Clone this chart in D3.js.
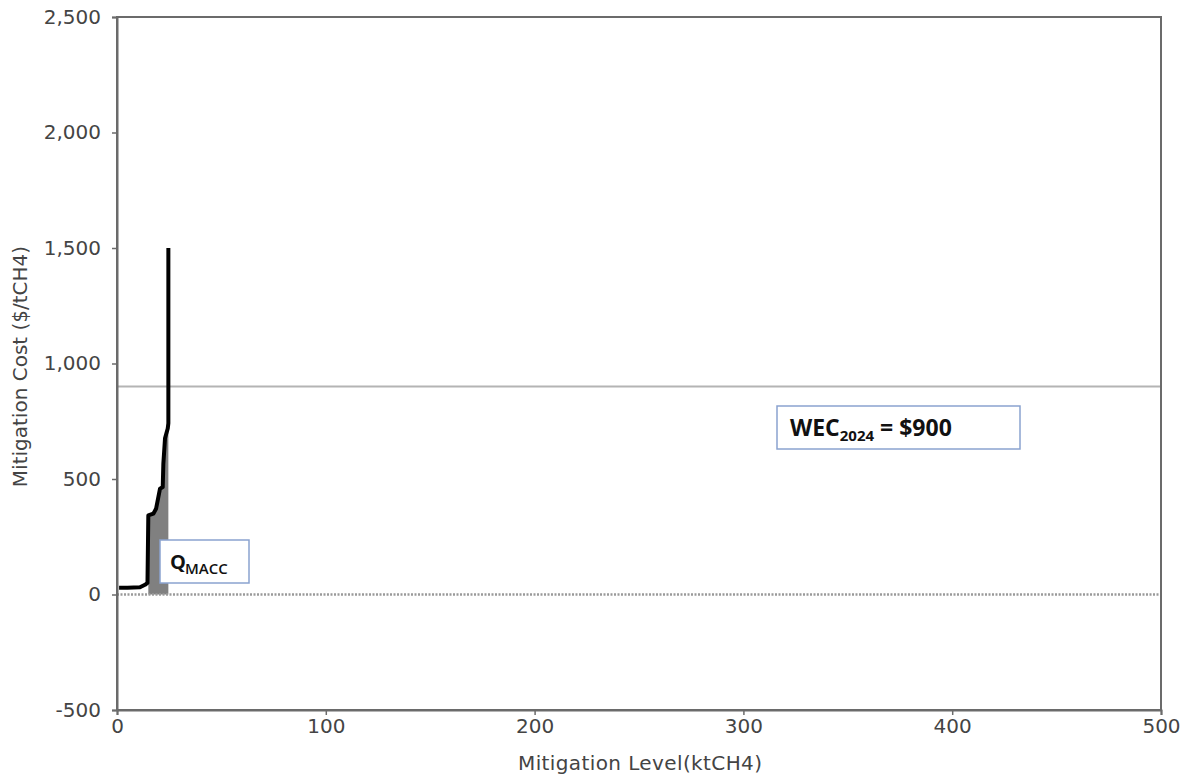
<!DOCTYPE html>
<html>
<head>
<meta charset="utf-8">
<script src="https://cdn.jsdelivr.net/npm/d3@7"></script>
<style>
  html, body { margin: 0; padding: 0; background: #fff; }
  svg { display: block; }
  text { font-family: "DejaVu Sans", sans-serif; }
</style>
</head>
<body>
<svg id="chart" width="1189" height="778"></svg>
<script>
// ---- data ----
const mitigationLevel = [1.0, 5, 11, 13.4, 14.6, 15.0, 17.4, 18.7, 19.8, 20.6, 21.9, 22.2, 23.0, 24.3, 24.6, 24.6];
const mitigationCost  = [29, 29, 31, 42, 50, 342, 350, 371, 422, 458, 465, 566, 676, 719, 741, 1500];
const fillStartLevel = 15.0;
const wecValue = 900;
const xTicks = [0, 100, 200, 300, 400, 500];
const yTicks = [-500, 0, 500, 1000, 1500, 2000, 2500];
const xTitle = "Mitigation Level(ktCH4)";
const yTitle = "Mitigation Cost ($/tCH4)";

// ---- layout ----
const svg = d3.select("#chart");
const L = 117, R = 1161, T = 17, B = 710;
const x = d3.scaleLinear().domain([0, 500]).range([L, R]);
const y = d3.scaleLinear().domain([-500, 2500]).range([B, T]);
const textColor = "#444444";
const axisColor = "#6b6b6b";
const fontSize = "20px";

const pts = mitigationLevel.map((m, i) => ({ m, c: mitigationCost[i] }));

// gray fill under curve
const fillPts = pts.filter(p => p.m >= fillStartLevel);
svg.append("path")
  .datum(fillPts)
  .attr("fill", "#808080")
  .attr("d", d3.area().x(d => x(d.m)).y0(y(0)).y1(d => y(d.c)));

// zero dotted line
svg.append("line")
  .attr("x1", x(0)).attr("x2", x(500)).attr("y1", y(0)).attr("y2", y(0))
  .attr("stroke", "#9a9a9a").attr("stroke-width", 2.5)
  .attr("stroke-dasharray", "2,1.5");

// WEC line
svg.append("line")
  .attr("x1", x(0)).attr("x2", x(500)).attr("y1", y(wecValue)).attr("y2", y(wecValue))
  .attr("stroke", "#b4b4b4").attr("stroke-width", 2);

// curve
svg.append("path")
  .datum(pts)
  .attr("fill", "none")
  .attr("stroke", "#000")
  .attr("stroke-width", 4)
  .attr("stroke-linejoin", "round")
  .attr("d", d3.line().x(d => x(d.m)).y(d => y(d.c)));

// frame
svg.append("rect")
  .attr("x", L).attr("y", T).attr("width", R - L).attr("height", B - T)
  .attr("fill", "none").attr("stroke", axisColor).attr("stroke-width", 2);

// axes
const xAxis = svg.append("g").attr("transform", `translate(0,${B})`)
  .call(d3.axisBottom(x).tickValues(xTicks).tickSize(5).tickPadding(4).tickFormat(d => String(d)));
const yAxis = svg.append("g").attr("transform", `translate(${L},0)`)
  .call(d3.axisLeft(y).tickValues(yTicks).tickSize(5).tickPadding(11)
    .tickFormat(d => (d < 0 ? "-" : "") + d3.format(",")(Math.abs(d))));
[xAxis, yAxis].forEach(g => {
  g.select(".domain").attr("stroke", axisColor).attr("stroke-width", 2);
  g.selectAll(".tick line").attr("stroke", axisColor).attr("stroke-width", 1.5);
  g.selectAll(".tick text").attr("fill", textColor)
    .style("font-family", "'DejaVu Sans', sans-serif").style("font-size", fontSize);
});

// axis titles
svg.append("text").attr("x", 640).attr("y", 770)
  .attr("text-anchor", "middle").attr("fill", textColor)
  .style("font-size", fontSize).attr("textLength", 244).text(xTitle);
svg.append("text")
  .attr("transform", `translate(27,${(T + B) / 2 + 3}) rotate(-90)`)
  .attr("text-anchor", "middle").attr("fill", textColor)
  .style("font-size", fontSize).text(yTitle);

// annotation boxes
const boxColor = "#8aa3cf";
svg.append("rect").attr("x", 777).attr("y", 406).attr("width", 243).attr("height", 43)
  .attr("fill", "#fff").attr("stroke", boxColor).attr("stroke-width", 1.5);
const wt = svg.append("text").attr("x", 790).attr("y", 436)
  .attr("fill", "#111").style("font-weight", "bold").style("font-size", "23px")
  .style("font-family", "'Open Sans', sans-serif");
wt.append("tspan").text("WEC");
wt.append("tspan").attr("dy", 5).style("font-size", "15px").text("2024");
wt.append("tspan").attr("dy", -5).text(" = $" + wecValue);

svg.append("rect").attr("x", 160).attr("y", 540).attr("width", 89).attr("height", 43)
  .attr("fill", "#fff").attr("stroke", boxColor).attr("stroke-width", 1.5);
const qt = svg.append("text").attr("x", 170).attr("y", 569)
  .attr("fill", "#111").style("font-weight", "bold").style("font-size", "20px")
  .style("font-family", "'Open Sans', sans-serif");
qt.append("tspan").text("Q");
qt.append("tspan").attr("dy", 5).attr("dx", -1).style("font-size", "15px").style("font-weight", "600").text("MACC");
</script>
</body>
</html>
